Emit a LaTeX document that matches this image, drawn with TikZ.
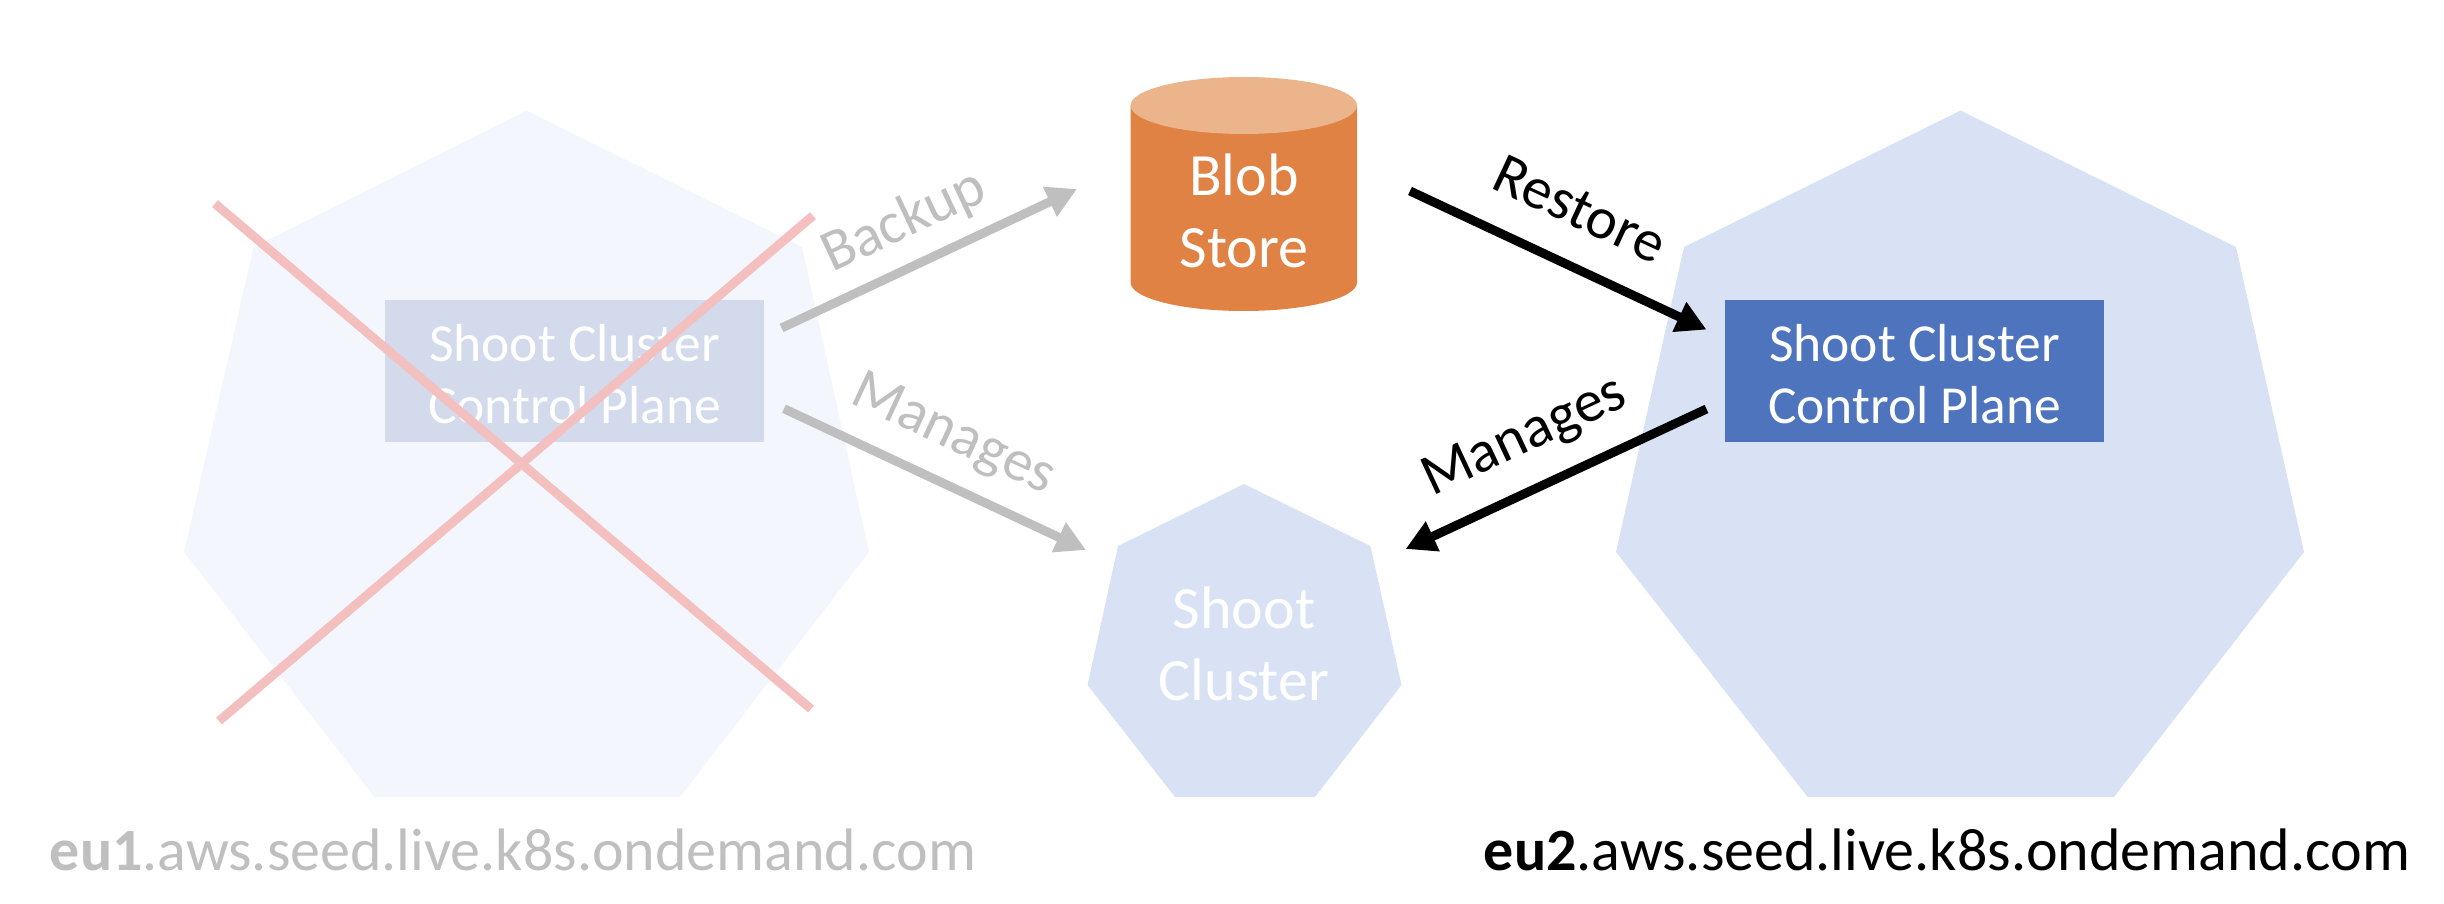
\documentclass[tikz,border=0pt]{standalone}
\usepackage{fontspec}
\setmainfont{Carlito}
\usetikzlibrary{arrows.meta}
\definecolor{hepfade}{HTML}{F3F6FC}
\definecolor{hepblue}{HTML}{D9E2F5}
\definecolor{rectfade}{HTML}{D2DAEC}
\definecolor{rectblue}{HTML}{4F74BE}
\definecolor{cylside}{HTML}{DF8244}
\definecolor{cyltop}{HTML}{ECB48A}
\definecolor{crossred}{HTML}{F4BFBF}
\definecolor{greyed}{HTML}{BFBFBF}
\tikzset{
  planebox/.style={minimum width=379pt,minimum height=142pt,inner sep=0pt,text=white,align=center},
  planetext/.style={text=white,align=center,inner sep=0pt,font=\fontsize{53.5}{62}\selectfont},
  bodytext/.style={text=white,align=center,inner sep=0pt,font=\fontsize{60}{72}\selectfont},
  edgelabel/.style={inner sep=0pt,font=\fontsize{59}{66}\selectfont},
  hostlabel/.style={inner sep=0pt,font=\fontsize{60}{70}\selectfont},
  link/.style={line width=9pt,-{Triangle[length=30pt,width=31pt]}},
  crossline/.style={line width=9pt,crossred}
}
\begin{document}
\begin{tikzpicture}[x=1pt,y=-1pt]
\useasboundingbox (0,0) rectangle (2444,904);
% heptagons
\fill[hepfade] (526.5,110.5) -- (802,247) -- (869,552) -- (680,797) -- (374.5,797) -- (184,552) -- (253.6,247) -- cycle;
\fill[hepblue] (1960.5,110.5) -- (2236,247) -- (2304,552) -- (2114,797) -- (1807.6,797) -- (1616,552) -- (1684,247) -- cycle;
\fill[hepblue] (1244,484) -- (1370.5,546) -- (1401.5,685) -- (1315,797) -- (1175,797) -- (1087.5,685) -- (1118,546) -- cycle;
% control planes
\node[planebox,fill=rectfade] (cpold) at (574.5,371) {};
\node[planetext] (cpoldtext) at (574.5,374) {Shoot Cluster\\Control Plane};
\node[planebox,fill=rectblue] (cpnew) at (1914.5,371) {};
\node[planetext] (cpnewtext) at (1914.5,374) {Shoot Cluster\\Control Plane};
% blob store
\fill[cylside] (1130.6,105.5) -- (1130.6,282.5) arc[start angle=180,end angle=360,x radius=113.2pt,y radius=28.5pt] -- (1357,105.5) -- cycle;
\fill[cyltop] (1243.8,105.5) ellipse[x radius=113.2pt,y radius=28.5pt];
\node[bodytext] (blob) at (1244,211) {Blob\\Store};
% shoot cluster
\node[bodytext] (shoot) at (1244,644) {Shoot\\Cluster};
% cross
\coordinate (xa) at (215,203.6);
\coordinate (xb) at (811,709);
\coordinate (xc) at (813,215.7);
\coordinate (xd) at (219,721);
\draw[crossline] (xa) -- (xb);
\draw[crossline] (xc) -- (xd);
% connectors
\coordinate (bs) at (781.6,328);
\coordinate (bt) at (1077,189);
\coordinate (ms) at (784,408.7);
\coordinate (mt) at (1086,550);
\coordinate (rs) at (1410,191);
\coordinate (rt) at (1706.5,329.6);
\coordinate (ns) at (1706.5,409);
\coordinate (nt) at (1405.6,549);
\draw[link,greyed] (bs) -- (bt);
\draw[link,greyed] (ms) -- (mt);
\draw[link,black] (rs) -- (rt);
\draw[link,black] (ns) -- (nt);
% edge labels
\node[edgelabel,text=greyed,rotate=25] (lb) at (904,222) {Backup};
\node[edgelabel,text=greyed,rotate=-25] (lm) at (953,436) {Manages};
\node[edgelabel,text=black,rotate=-25] (lr) at (1580,209) {Restore};
\node[edgelabel,text=black,rotate=25] (ln) at (1525,438) {Manages};
% host labels
\node[hostlabel,text=greyed] (hl) at (513,850) {\textbf{eu1}.aws.seed.live.k8s.ondemand.com};
\node[hostlabel,text=black] (hr) at (1947,850) {\textbf{eu2}.aws.seed.live.k8s.ondemand.com};
\end{tikzpicture}
\end{document}
